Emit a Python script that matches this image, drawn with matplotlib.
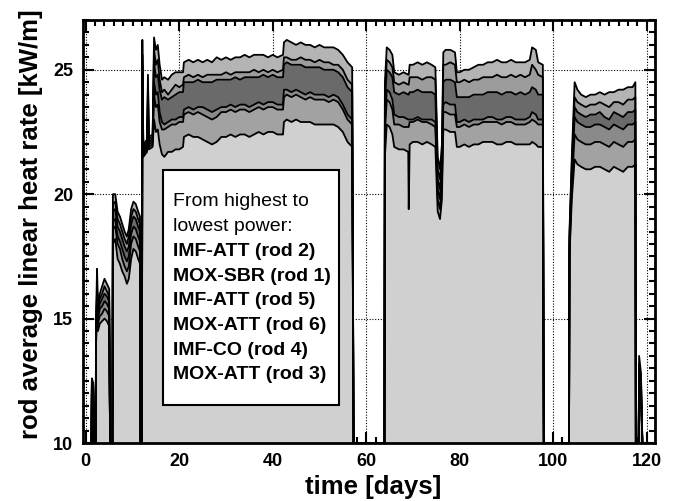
import matplotlib
matplotlib.use("Agg")
import matplotlib.pyplot as plt
from matplotlib.patches import Rectangle
from matplotlib.ticker import MultipleLocator

plt.rcParams['font.family'] = ['Liberation Sans', 'DejaVu Sans']

# time axis [days]
days = [0.0, 1.2, 1.3, 1.6, 1.7, 2.1, 2.2, 2.4, 2.6, 3.0, 3.5, 4.0, 4.5, 5.0, 5.2, 5.7,
        5.8, 6.3, 6.8, 7.3, 7.8, 8.3, 8.8, 9.2, 9.7, 10.2, 10.7, 11.2, 11.6, 11.7, 12.0,
        12.1, 12.3, 13.1, 13.3, 13.5, 14.3, 14.6, 15.0, 15.4, 15.8, 16.3,
        16.8, 17.6, 18.4, 19.2, 20.0, 20.8,
        21.0, 22.0, 23.0, 24.0, 25.0, 26.0, 27.0, 28.0, 29.0, 30.0, 31.0, 32.0, 33.0, 34.0,
        35.0, 36.0, 37.0, 38.0, 39.0, 40.0, 41.0, 42.2,
        42.4, 43.0, 44.0, 45.0, 46.0, 47.0, 48.0, 49.0, 50.0, 51.0, 52.0, 53.0, 54.0, 55.0,
        56.0, 57.0,
        57.3, 63.9,
        64.0, 64.4, 65.0, 65.6, 66.0, 67.0, 68.0, 69.0, 69.1, 69.3, 70.0, 71.0, 72.0, 73.0,
        74.0, 74.8,
        75.3, 75.8, 76.2,
        76.5, 77.0, 78.0, 79.0,
        79.4, 80.0, 81.0, 82.0, 83.0, 84.0, 85.0, 86.0, 87.0, 88.0, 89.0, 90.0, 91.0, 92.0,
        93.0, 94.0, 95.0,
        95.5, 96.3, 96.8, 97.8,
        98.0, 103.4,
        103.5, 104.0, 104.6, 105.2, 106.0, 107.0, 108.0, 109.0, 110.0, 111.0, 112.0, 113.0,
        114.0, 115.0, 116.0, 117.0, 117.6,
        117.7, 118.3, 118.4, 118.8, 119.1, 121.5]

# rod average linear heat rate [kW/m], highest to lowest power
rod2_imf_att = [10, 10, 12.6, 12.4, 10, 10, 15.0, 17.0, 15.6, 16.0, 16.3, 16.6, 16.4, 16.2, 10, 10,
                20.0, 20.0, 19.3, 19.1, 18.8, 18.5, 18.3, 18.6, 19.4, 19.7, 19.6, 19.3, 19.1, 10, 10,
                26.2, 22.0, 22.2, 24.8, 22.3, 22.4, 26.3, 25.8, 26.0, 25.2, 24.6,
                24.7, 24.6, 24.8, 24.9, 24.9, 24.9,
                25.3, 25.4, 25.3, 25.4, 25.3, 25.4, 25.3, 25.5, 25.4, 25.5, 25.4, 25.5, 25.5, 25.6,
                25.5, 25.6, 25.6, 25.6, 25.5, 25.6, 25.5, 25.6,
                26.1, 26.2, 26.1, 26.0, 26.1, 26.0, 26.0, 25.9, 26.0, 25.9, 25.9, 25.9, 25.8, 25.6,
                25.3, 25.1,
                10, 10,
                24.5, 25.9, 25.8, 25.6, 24.9, 24.8, 24.9, 24.8, 24.8, 25.2, 25.2, 25.3, 25.2, 25.3,
                25.2, 25.1,
                21.5, 21.0, 22.0,
                25.7, 25.8, 25.8, 25.7,
                24.9, 24.9, 25.0, 25.0, 25.1, 25.2, 25.2, 25.3, 25.3, 25.4, 25.3, 25.3, 25.4, 25.3,
                25.3, 25.3, 25.4,
                25.9, 25.8, 25.3, 25.2,
                10, 10,
                18.5, 21.5, 24.5, 24.2, 24.0, 23.9, 24.0, 24.0, 24.1, 24.0, 24.1, 24.1,
                24.2, 24.2, 24.3, 24.3, 24.5,
                10, 10, 13.5, 12.8, 10, 10]

rod1_mox_sbr = [10, 10, 12.5, 12.3, 10, 10, 14.8, 16.2, 15.4, 15.8, 16.0, 16.3, 16.1, 15.9, 10, 10,
                19.6, 19.7, 19.0, 18.8, 18.5, 18.2, 18.0, 18.3, 19.1, 19.4, 19.3, 19.0, 18.8, 10, 10,
                25.6, 21.9, 22.1, 24.4, 22.2, 22.3, 25.8, 25.2, 25.4, 24.6, 24.1,
                24.2, 24.0, 24.2, 24.4, 24.3, 24.4,
                24.7, 24.8, 24.7, 24.8, 24.7, 24.8, 24.8, 24.8, 24.8, 24.9, 24.8, 24.9, 24.9, 24.9,
                24.9, 25.0, 24.9, 25.0, 24.9, 25.0, 24.9, 25.0,
                25.5, 25.5, 25.4, 25.4, 25.5, 25.4, 25.4, 25.3, 25.4, 25.3, 25.3, 25.2, 25.2, 25.0,
                24.6, 24.4,
                10, 10,
                24.0, 25.4, 25.3, 25.1, 24.5, 24.4, 24.5, 24.4, 24.4, 24.7, 24.7, 24.7, 24.6, 24.7,
                24.7, 24.6,
                21.0, 20.6, 21.5,
                25.2, 25.2, 25.3, 25.2,
                24.5, 24.5, 24.6, 24.5, 24.6, 24.6, 24.7, 24.7, 24.7, 24.8, 24.7, 24.7, 24.8, 24.7,
                24.8, 24.7, 24.8,
                25.2, 25.0, 24.8, 24.7,
                10, 10,
                18.3, 21.2, 23.9, 23.7, 23.6, 23.5, 23.6, 23.6, 23.7, 23.6, 23.5, 23.7,
                23.7, 23.6, 23.8, 23.8, 23.9,
                10, 10, 13.2, 12.6, 10, 10]

rod5_imf_att = [10, 10, 12.4, 12.2, 10, 10, 14.6, 16.0, 15.2, 15.6, 15.8, 16.0, 15.9, 15.7, 10, 10,
                19.3, 19.4, 18.7, 18.5, 18.2, 17.9, 17.7, 17.9, 18.8, 19.1, 19.0, 18.7, 18.5, 10, 10,
                25.2, 21.8, 22.0, 24.0, 22.1, 22.2, 25.3, 24.7, 24.8, 24.2, 23.8,
                23.9, 23.8, 23.9, 24.0, 24.1, 24.1,
                24.5, 24.5, 24.5, 24.6, 24.5, 24.5, 24.5, 24.6, 24.6, 24.6, 24.6, 24.7, 24.6, 24.7,
                24.7, 24.7, 24.7, 24.8, 24.7, 24.8, 24.7, 24.7,
                25.2, 25.3, 25.2, 25.2, 25.2, 25.1, 25.1, 25.1, 25.1, 25.0, 25.0, 25.0, 24.9, 24.7,
                24.3, 24.1,
                10, 10,
                23.6, 25.0, 24.9, 24.7, 24.1, 24.0, 24.1, 24.0, 24.0, 24.1, 24.1, 24.2, 24.1, 24.1,
                24.1, 24.0,
                20.6, 20.2, 21.1,
                24.5, 24.6, 24.6, 24.5,
                23.9, 23.9, 23.9, 23.9, 24.0, 24.0, 24.0, 24.1, 24.1, 24.1, 24.0, 24.1, 24.1, 24.0,
                24.1, 24.0, 24.1,
                24.3, 24.2, 24.0, 24.0,
                10, 10,
                18.1, 20.9, 23.5, 23.3, 23.2, 23.1, 23.2, 23.2, 23.3, 23.1, 23.0, 23.3,
                23.2, 23.1, 23.3, 23.3, 23.4,
                10, 10, 12.9, 12.4, 10, 10]

rod6_mox_att = [10, 10, 12.3, 12.1, 10, 10, 14.4, 15.8, 15.0, 15.4, 15.5, 15.7, 15.6, 15.4, 10, 10,
                18.9, 19.0, 18.3, 18.1, 17.8, 17.5, 17.3, 17.5, 18.4, 18.7, 18.6, 18.3, 18.1, 10, 10,
                24.5, 21.7, 21.9, 23.5, 22.0, 22.1, 24.5, 24.0, 24.1, 23.3, 22.9,
                22.8, 22.9, 23.0, 23.0, 23.1, 23.1,
                23.4, 23.5, 23.4, 23.5, 23.5, 23.4, 23.3, 23.4, 23.5, 23.5, 23.6, 23.5, 23.6, 23.6,
                23.5, 23.6, 23.7, 23.6, 23.7, 23.7, 23.6, 23.6,
                24.2, 24.2, 24.1, 24.2, 24.1, 24.0, 24.1, 24.0, 24.0, 24.0, 23.9, 24.0, 23.9, 23.6,
                23.2, 23.0,
                10, 10,
                22.8, 24.2, 24.1, 23.8, 23.2, 23.1, 23.1, 23.0, 23.0, 23.0, 23.0, 23.1, 23.0, 23.0,
                23.0, 22.9,
                20.2, 19.8, 20.7,
                23.6, 23.7, 23.6, 23.6,
                22.9, 22.9, 23.0, 22.9, 23.0, 23.0, 23.0, 23.1, 23.1, 23.0, 23.0, 23.1, 23.1, 23.0,
                23.0, 23.0, 23.1,
                23.3, 23.2, 23.0, 23.0,
                10, 10,
                17.9, 20.6, 23.1, 22.9, 22.8, 22.7, 22.7, 22.8, 22.8, 22.7, 22.6, 22.8,
                22.7, 22.6, 22.8, 22.8, 22.9,
                10, 10, 12.6, 12.2, 10, 10]

rod4_imf_co = [10, 10, 12.2, 12.0, 10, 10, 14.2, 15.6, 14.8, 15.1, 15.2, 15.4, 15.3, 15.1, 10, 10,
               18.6, 18.7, 18.0, 17.8, 17.4, 17.1, 16.9, 17.1, 18.0, 18.3, 18.2, 17.9, 17.7, 10, 10,
               24.0, 21.6, 21.8, 23.1, 21.9, 22.0, 24.0, 23.5, 23.6, 22.9, 22.6,
               22.6, 22.7, 22.8, 22.8, 22.9, 22.9,
               23.2, 23.3, 23.2, 23.3, 23.2, 23.1, 23.0, 23.1, 23.3, 23.3, 23.4, 23.3, 23.4, 23.4,
               23.3, 23.4, 23.5, 23.4, 23.5, 23.5, 23.4, 23.4,
               23.9, 24.0, 23.9, 24.0, 23.9, 23.8, 23.9, 23.8, 23.8, 23.8, 23.7, 23.8, 23.7, 23.4,
               23.0, 22.8,
               10, 10,
               22.5, 23.8, 23.7, 23.4, 22.8, 22.8, 22.7, 22.7, 22.7, 22.9, 22.9, 23.0, 22.9, 22.9,
               22.8, 22.7,
               19.8, 19.4, 20.3,
               23.3, 23.3, 23.2, 23.2,
               22.7, 22.7, 22.8, 22.7, 22.8, 22.8, 22.9, 22.9, 22.9, 22.9, 22.8, 22.9, 22.9, 22.8,
               22.8, 22.8, 22.9,
               23.0, 22.9, 22.8, 22.8,
               10, 10,
               17.7, 20.3, 22.4, 22.2, 22.1, 22.0, 22.0, 22.1, 22.1, 22.0, 21.9, 22.1,
               22.0, 21.9, 22.1, 22.1, 22.2,
               10, 10, 12.3, 12.0, 10, 10]

rod3_mox_att = [10, 10, 12.0, 11.8, 10, 10, 14.0, 15.3, 14.5, 14.8, 14.9, 15.0, 14.9, 14.7, 10, 10,
                18.0, 18.2, 17.4, 17.2, 16.9, 16.7, 16.4, 16.6, 17.4, 17.8, 17.7, 17.4, 17.2, 10, 10,
                23.0, 21.5, 21.7, 22.4, 21.8, 21.9, 23.0, 22.5, 22.6, 22.0, 21.6,
                21.5, 21.7, 21.7, 21.8, 21.8, 21.9,
                22.3, 22.4, 22.3, 22.3, 22.2, 22.1, 22.0, 22.1, 22.3, 22.3, 22.4, 22.3, 22.4, 22.4,
                22.3, 22.4, 22.5, 22.4, 22.5, 22.5, 22.4, 22.4,
                22.9, 23.0, 22.9, 23.0, 22.9, 22.9, 22.9, 22.8, 22.8, 22.8, 22.8, 22.8, 22.7, 22.5,
                22.1, 21.9,
                10, 10,
                21.5, 22.8, 22.7, 22.4, 21.9, 21.8, 21.8, 21.7, 19.4, 22.0, 22.1, 22.1, 22.0, 22.1,
                22.0, 21.9,
                19.3, 19.0, 19.8,
                22.6, 22.6, 22.5, 22.5,
                21.9, 21.9, 22.0, 21.9, 22.0, 22.0, 22.1, 22.1, 22.1, 22.0, 22.0, 22.1, 22.1, 22.0,
                22.0, 22.0, 22.0,
                22.1, 22.0, 21.9, 21.9,
                10, 10,
                17.5, 19.8, 21.4, 21.2, 21.1, 21.0, 21.0, 21.1, 21.1, 21.0, 20.9, 21.1,
                21.0, 20.9, 21.1, 21.1, 21.2,
                10, 10, 12.0, 11.8, 10, 10]

legend_lines = ["From highest to", "lowest power:", "IMF-ATT (rod 2)", "MOX-SBR (rod 1)",
                "IMF-ATT (rod 5)", "MOX-ATT (rod 6)", "IMF-CO (rod 4)", "MOX-ATT (rod 3)"]

series = [rod3_mox_att, rod4_imf_co, rod6_mox_att, rod5_imf_att, rod1_mox_sbr, rod2_imf_att]
for s in series:
    assert len(s) == len(days), (len(s), len(days))

W, H = 673, 501
fig = plt.figure(figsize=(W / 100, H / 100), dpi=100)
ax = fig.add_axes([83 / W, (H - 443) / H, (655 - 83) / W, (443 - 20) / H])

band_colors = ['#a2a2a2', '#8a8a8a', '#6a6a6a', '#9c9c9c', '#b4b4b4']
ax.fill_between(days, 10, rod3_mox_att, color='#d0d0d0', lw=0, zorder=2)
for lo, hi, c in zip(series[:-1], series[1:], band_colors):
    ax.fill_between(days, lo, hi, color=c, lw=0, zorder=2)
for s in series:
    ax.plot(days, s, color='black', lw=1.3, zorder=3)

ax.set_xlim(-0.6, 121.8)
ax.set_ylim(10, 27)
ax.xaxis.set_major_locator(MultipleLocator(20))
ax.xaxis.set_minor_locator(MultipleLocator(2))
ax.yaxis.set_major_locator(MultipleLocator(5))
ax.yaxis.set_minor_locator(MultipleLocator(0.5))
ax.grid(True, which='major', color='black', linestyle=(0, (1, 1.5)), lw=0.8, zorder=1)
ax.set_axisbelow(True)
ax.tick_params(which='both', direction='in', top=True, right=True, width=1.5)
ax.tick_params(which='major', length=8, pad=7, labelsize=13)
ax.tick_params(which='minor', length=4.5)
for lab in ax.get_xticklabels() + ax.get_yticklabels():
    lab.set_fontweight('bold')
for sp in ax.spines.values():
    sp.set_linewidth(2)

fig.text(31 / W, 1 - 224 / H, "rod average linear heat rate [kW/m]", rotation=90,
         ha='center', va='center', fontsize=18.5, fontweight='bold')
fig.text(373 / W, 1 - 487 / H, "time [days]", ha='center', va='center',
         fontsize=18.5, fontweight='bold')

# legend-like text box
fig.add_artist(Rectangle((163 / W, 1 - 405 / H), (339 - 163) / W, (405 - 170) / H,
                         transform=fig.transFigure, facecolor='white', edgecolor='black',
                         lw=1.5, zorder=5))
y0, dy = 200, 24.7
for i, t in enumerate(legend_lines):
    fig.text(173 / W, 1 - (y0 + i * dy) / H, t, ha='left', va='center_baseline',
             fontsize=14, fontweight='normal' if i < 2 else 'bold', zorder=6)

fig.savefig("out.png", dpi=100)
